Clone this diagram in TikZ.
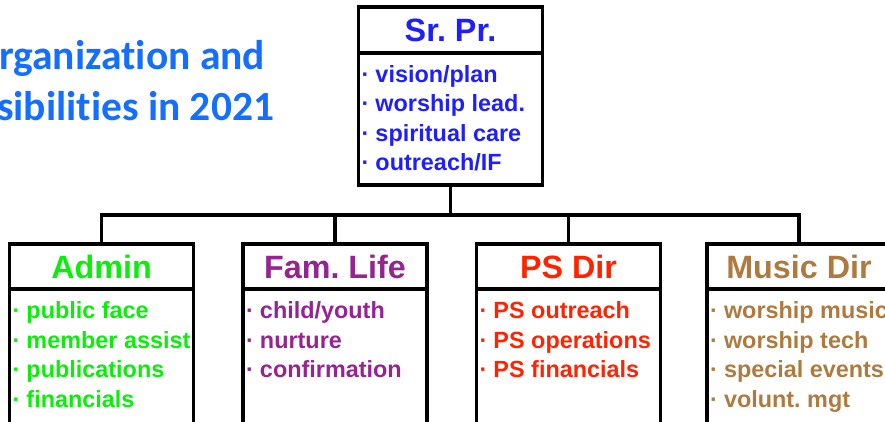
\documentclass[tikz,border=0pt]{standalone}
\usepackage{fontspec}
\setmainfont{Liberation Sans}
\newfontfamily\titlefont[Ligatures=NoCommon]{Carlito}
\usetikzlibrary{calc}
\definecolor{titleblue}{RGB}{20,110,255}
\definecolor{prblue}{RGB}{30,30,255}
\definecolor{admingreen}{RGB}{10,238,10}
\definecolor{fampurple}{RGB}{150,35,145}
\definecolor{psred}{RGB}{255,35,0}
\definecolor{musicbrown}{RGB}{175,122,62}
\frenchspacing
\begin{document}
\begin{tikzpicture}[x=1pt,y=-1pt,
    every node/.style={inner sep=0pt,outer sep=0pt},
    head/.style={draw,line width=3.8pt,minimum width=184pt,minimum height=45.5pt,
      font=\bfseries\fontsize{32.3}{36}\selectfont},
    body/.style={draw,line width=3.8pt,minimum width=184pt,anchor=north},
    item/.style={anchor=base west,font=\bfseries\fontsize{23.4}{28}\selectfont},
    titletext/.style={anchor=base east,text=titleblue,
      font=\titlefont\bfseries\fontsize{41.5}{48}\selectfont},
    wire/.style={line width=3.8pt}]
  \clip (0,0) rectangle (885,422);
  \node[titletext] (title1) at (265,70) {rganization and};
  \node[titletext] (title2) at (274,121) {sibilities in 2021};
  % senior pastor
  \node[head,text=prblue] (srpr) at (450.5,30) {Sr. Pr.};
  \node[body,minimum height=132pt] (srprbody) at (srpr.south) {};
  \foreach \t [count=\i] in {vision/plan,worship lead.,spiritual care,outreach/IF}
    \node[item,text=prblue] (srpr-\i) at ($(srpr.south west)+(17,29.5*\i)$)
      {\llap{·\hspace{6pt}}\t};
  % staff boxes
  \foreach \n/\cx/\c/\h/\l in {
      admin/101.5/admingreen/Admin/{public face,member assist,publications,financials},
      fam/335/fampurple/Fam. Life/{child/youth,nurture,confirmation},
      ps/568.5/psred/PS Dir/{PS outreach,PS operations,PS financials},
      music/799/musicbrown/Music Dir/{worship music,worship tech,special events,volunt. mgt}}
  {
    \node[head,text=\c] (\n) at (\cx,266.5) {\h};
    \node[body,minimum height=134.5pt] (\n body) at (\n.south) {};
    \foreach \t [count=\i] in \l
      \node[item,text=\c] (\n-\i) at ($(\n.south west)+(17,29.5*\i)$)
        {\llap{·\hspace{6pt}}\t};
    \draw[wire] (srprbody.south) -- ++(0,30) -| (\n.north);
  }
\end{tikzpicture}
\end{document}
